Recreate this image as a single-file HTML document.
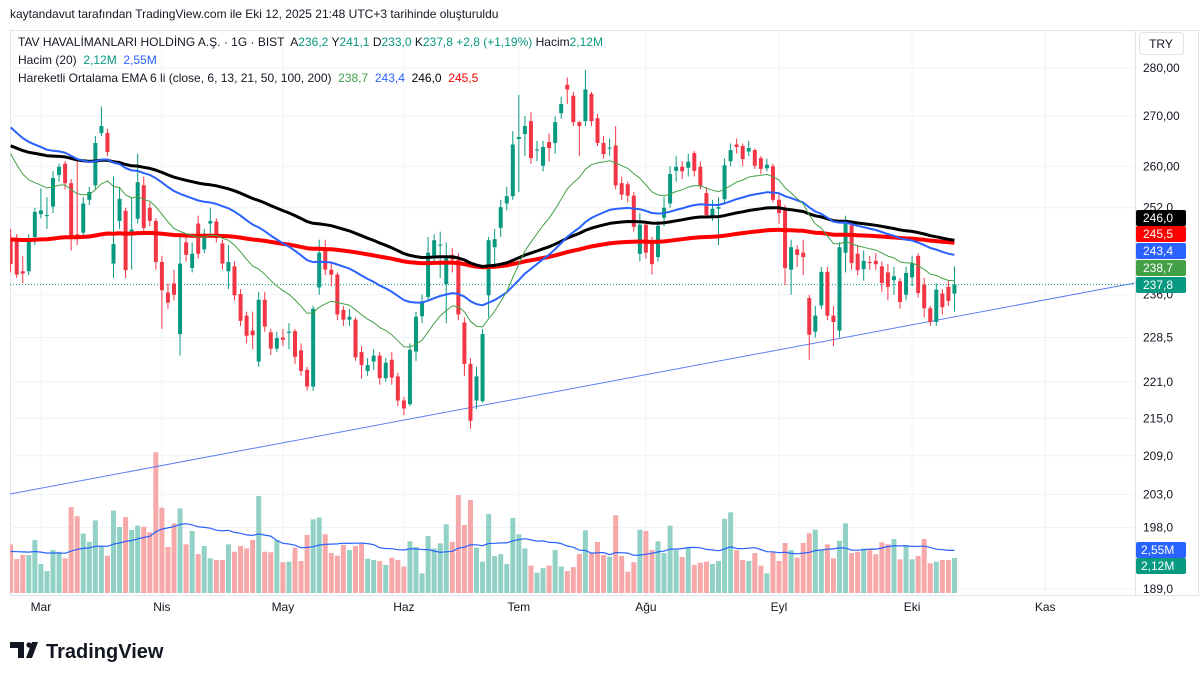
<!DOCTYPE html>
<html><head><meta charset="utf-8">
<style>
html,body{margin:0;padding:0;background:#fff;width:1199px;height:680px;overflow:hidden}
svg{display:block;font-family:"Liberation Sans",sans-serif}
svg text{white-space:pre}
</style></head><body>
<svg id="chart" width="1199" height="680" viewBox="0 0 1199 680" xmlns="http://www.w3.org/2000/svg">
<text x="10" y="18" font-size="12" fill="#131722">kaytandavut tarafından TradingView.com ile Eki 12, 2025 21:48 UTC+3 tarihinde oluşturuldu</text>
<rect x="10.5" y="30.5" width="1188" height="565" fill="none" stroke="#e0e3eb"/>
<line x1="1135.5" y1="30" x2="1135.5" y2="595" stroke="#e0e3eb"/>
<g id="grid"></g>
<g clip-path="url(#pane)">
<g id="vol"></g>
<path id="volma" fill="none" stroke="#2962ff" stroke-width="1.2"/>
<line x1="10" y1="494" x2="1135" y2="283" stroke="#5b7ff0" stroke-width="1"/>
<line id="lastline" x1="10" x2="1135" stroke="#089981" stroke-width="1" stroke-dasharray="1,2"/>
<g id="candles"></g>
<g id="emas"></g>
</g>
<defs><clipPath id="pane"><rect x="10" y="30" width="1125" height="565"/></clipPath></defs>
<g id="yaxis"></g>
<g id="xaxis"></g>
<g id="tags"></g>
<rect x="1139.5" y="32.5" width="44" height="22" rx="3" fill="#fff" stroke="#e0e3eb"/>
<text x="1161" y="48" font-size="12" fill="#131722" text-anchor="middle">TRY</text>
<text x="18" y="46" font-size="12" fill="#131722">TAV HAVALİMANLARI HOLDİNG A.Ş. · 1G · BIST  A<tspan fill="#089981">236,2</tspan> Y<tspan fill="#089981">241,1</tspan> D<tspan fill="#089981">233,0</tspan> K<tspan fill="#089981">237,8 +2,8 (+1,19%)</tspan> Hacim<tspan fill="#089981">2,12M</tspan></text>
<text x="18" y="64" font-size="12" fill="#131722">Hacim (20)  <tspan fill="#089981">2,12M</tspan>  <tspan fill="#2962ff">2,55M</tspan></text>
<text x="18" y="82" font-size="12" fill="#131722">Hareketli Ortalama EMA 6 li (close, 6, 13, 21, 50, 100, 200)  <tspan fill="#43a047">238,7</tspan>  <tspan fill="#2962ff">243,4</tspan>  <tspan fill="#000">246,0</tspan>  <tspan fill="#f00">245,5</tspan></text>
<g>
<path d="M10 642h14v16h-6v-10h-8z M26 658l6-16h6l-6 16z" fill="#131722"/>
<circle cx="29" cy="645" r="2.6" fill="#131722"/>
<text x="46" y="658" font-size="20" font-weight="bold" fill="#131722">TradingView</text>
</g>
</svg>
<script>
const O=[246,246.3,240.2,240.2,246.5,250.8,250.4,252.2,258.3,260.5,256.7,247,247.3,253.5,256.3,266.6,266.6,241.6,249.5,251.4,247.5,249.9,256.3,252,249.5,241.9,236.4,238,229.1,245.5,240.8,249,244.2,249,249.4,245.3,240.2,241.1,236.1,232.3,229.7,224.4,235.1,229.4,226.6,228.5,229.3,229.6,226.3,223,220.2,237.3,244.1,240.5,239.6,233.3,231.6,231.6,226,222.8,224.4,225.4,221.6,224.7,221.9,217.9,217.3,226.1,232.2,235.6,243,244.9,237.9,243.2,242.3,231.1,224,217.9,217.8,235.9,244.6,248.2,252.8,254.2,265.4,266.4,269,263.1,260.1,264.8,264.6,270.6,276.5,274.2,268.8,269,274.6,269.6,264.6,263.5,264.1,256.7,256.5,254.3,243.4,248.8,245.9,242.8,250.1,252.8,259.1,259.9,259.7,262.6,259.9,254.8,250.3,251.8,253.6,261,264.3,264,262.9,263.2,261.6,259.6,260,253.5,252,240.5,244.2,243.6,235.4,229.5,234.1,240.1,232.3,229.7,243.6,248.7,243.4,240.6,241.9,242.1,241.1,240,238.6,238.4,236,239.1,243,237.8,233.6,231.2,236.2,237.4,236.2];
const C=[241.5,239.6,239.8,246.3,251.2,251.5,250.6,257.7,259.9,256.7,246.5,246.5,252.8,255,264.6,268,262.8,245.2,253.7,240.4,247.9,256.9,248.2,249.5,241.9,236.8,234.6,236,241.6,243.2,243.4,243.4,247.1,249.5,246.3,241.6,241.9,235.9,231.4,228.8,228.9,235.1,230.4,226.6,228.4,228.1,229.5,225.2,222.8,220.2,233.5,243.6,240.5,239.6,232.5,231.6,232.1,225.1,223.8,223.8,225.4,221.6,224.2,221.7,217.9,216.6,226.4,232.1,234.8,243.6,245.9,245.1,242.8,242.3,232.5,224,214.6,221.9,229.1,245.9,246.1,252.1,254.2,264.3,265.8,268,261.6,263.3,263.8,263.6,268.8,272.5,275.5,268.8,268,275.5,269,264.6,262.4,263.7,256.3,254.5,254.3,248.4,248.8,243.6,241.5,248.6,252,258.5,259.9,259,260.9,259.1,256.1,250.6,251.8,252.1,260.2,263.2,263.8,261.4,263.6,260.1,259.5,260.3,253.5,251,240.8,244.6,243.2,242.8,229,232.3,240.1,232.3,231.2,244.6,249.7,241.7,240.4,242.1,241.7,241.5,238.1,237.4,239.3,234.7,239.9,241.7,236.3,233.6,231.2,236.9,233.8,234.9,237.8];
const H=[248,247,243,247,252,255.7,254,259,260.5,261,257.5,261,254,256,266,272,267.5,258,256,252,254,262.5,258,253,250,243,238,240.5,246.9,247,245.5,250.5,248,252,250,246,245,242,237,233,233,236.5,236.5,230,229.5,230,231,230,227.5,223.5,234,246,246,242,240,234,233.5,232,227,225,226.5,226,225,226,222.5,218.5,227.5,233,236,246.5,247,247.5,245.5,244.5,243.5,232,225,223.5,230,246.5,248,253.5,256,267,274.4,270,270.8,265,265,266.5,270,274,278,275,269,279.6,275,270.5,266,265.5,268,258,257,255,251,249.5,246.5,249.5,254,260,262,261,262.5,263,261,256,253.5,254,261.5,264.5,265.5,264.5,265,263.5,262,261.5,260.5,254.5,252.5,246,245,246,236,234,241,241,234,245.5,250.5,249.5,245,244,243,243.5,242,241.5,241,239,241,243,243.5,239,234,238,237,238.5,241.1];
const L=[240,239,238,239.5,245,250,248,251,257,255.5,244,245,246.5,252.5,255.5,266,262,239,248,239,240.5,249,247,248.5,240.5,230,233.5,235,225.4,242,240,242.5,243.5,246.5,245.5,240.5,237,235,230.5,227.5,226.5,223.5,229.5,225.5,226,227,226.5,224,222,219.5,219.5,236,239.5,237.5,231.5,230.5,230.5,224.5,221.5,222,223,220.5,221,220.5,217,215.5,217,224.5,231,235,241.5,239,231,240,231.5,222,213.3,216.5,217.5,232,241.5,246.5,251.5,253.5,255,262,260.5,261,259,261,262.5,269.5,272.5,268,262,268,268,264,261.5,262,255.5,253.5,253,247.5,242,242.5,239.6,242,248.5,252,257,257.5,258,258,255.5,250,249.5,245,253,260,262.5,260,262,259.5,258.5,259,253,249,237.7,236,241,239.5,224.7,228.5,233.5,231.5,227,228.5,240,240.5,239.5,238.5,240.5,240.5,236.5,235,236,233.5,235,237.5,235.5,232,230.5,230.5,232.5,234,233];
const V=[2.95,2.06,2.3,2.3,3.21,1.76,1.33,2.6,2.5,2.1,5.21,4.65,3.6,3.1,4.4,2.79,2.26,5.0,4.0,4.6,3.82,4.08,4.02,3.68,8.53,5.17,2.79,4.22,5.13,2.95,3.76,2.36,2.85,2.1,2.0,2.0,2.95,2.5,2.85,2.7,3.21,5.88,2.5,2.47,3.21,1.86,1.9,2.75,1.94,3.52,4.46,4.57,3.56,2.42,2.26,2.91,2.6,2.85,2.97,2.08,2.0,1.94,1.7,2.14,2.0,1.6,3.13,2.79,1.19,3.45,2.7,3.01,4.16,3.1,5.94,4.12,5.64,2.75,1.9,4.79,2.24,2.36,1.76,4.55,3.56,2.7,1.66,1.23,1.51,1.66,2.6,1.6,1.33,1.57,2.36,3.8,2.4,3.09,2.3,2.2,4.71,2.24,1.29,1.86,3.84,3.76,2.6,3.13,2.42,4.08,2.6,2.18,2.75,1.7,1.84,1.9,1.76,1.94,4.5,4.89,2.6,2.0,1.94,2.42,1.66,1.19,2.5,1.94,3.03,2.6,2.14,3.03,3.62,3.84,2.57,2.95,2.1,3.17,4.22,2.42,2.5,2.7,2.64,2.35,3.07,2.95,3.27,2.04,2.91,2.04,2.24,3.27,1.8,1.9,2.0,2.0,2.12];
const emaPeriods=[200,100,50,21];
const emaSeeds=[246.1,264.5,268.8,264.5];
const emaColors=['#f00','#000','#2962ff','#43a047'];
const emaWidths=[4,3,2,1];
const volSeed=2.5;
const priceTicks=[280,270,260,252,236,228.5,221,215,209,203,198,189];
const priceTickLabels=['280,00','270,00','260,00','252,0','236,0','228,5','221,0','215,0','209,0','203,0','198,0','189,0'];
const monthLabels=['Mar','Nis','May','Haz','Tem','Ağu','Eyl','Eki','Kas'];
const monthBarIdx=[5,25,45,65,84,105,127,149,171];
const tagLabels=['246,0','245,5','243,4','238,7','237,8'];
const tagColors=['#000','#f00','#2962ff','#43a047','#089981'];

const NS='http://www.w3.org/2000/svg';
function x(i){return 10.65+6.05*i;}
function y(p){return 68+1326*Math.log(280/p);}
function vy(v){return 593-16.5*v;}
function mk(tag,attrs,parent){const e=document.createElementNS(NS,tag);for(const k in attrs)e.setAttribute(k,attrs[k]);parent.appendChild(e);return e;}

const grid=document.getElementById('grid');
priceTicks.forEach((p,i)=>{
  const g=mk('line',{x1:10,x2:1135,y1:y(p),y2:y(p),stroke:'#f0f3fa'},grid);
  
  
});
monthBarIdx.forEach((b,i)=>{
  const g=mk('line',{x1:x(b),x2:x(b),y1:30,y2:595,stroke:'#f0f3fa'},grid);
  
  
});

const yax=document.getElementById('yaxis');
priceTicks.forEach((p,i)=>{
  const t=mk('text',{x:1143,y:y(p)+4,'font-size':12,fill:'#131722'},yax);
  t.textContent=priceTickLabels[i];
  
  
});
const xax=document.getElementById('xaxis');
monthLabels.forEach((m,i)=>{
  const t=mk('text',{x:x(monthBarIdx[i]),y:611,'font-size':12,fill:'#131722','text-anchor':'middle'},xax);
  t.textContent=m;
  
  
});

const vol=document.getElementById('vol');
V.forEach((v,i)=>{
  const up=C[i]>=O[i];
  const r=mk('rect',{x:x(i)-2.5,y:vy(v),width:5,height:593-vy(v),fill:up?'#92d2c6':'#f7a8a8'},vol);
  
  
});
let vd='';
V.forEach((v,i)=>{let s=0;for(let k=i-19;k<=i;k++)s+=(k<0?volSeed:V[k]);const m=s/20;vd+=(i?'L':'M')+x(i).toFixed(1)+' '+vy(m).toFixed(1);});
document.getElementById('volma').setAttribute('d',vd);
document.getElementById('lastline').setAttribute('y1',y(C[C.length-1]));
document.getElementById('lastline').setAttribute('y2',y(C[C.length-1]));

const cg=document.getElementById('candles');
C.forEach((c,i)=>{
  const up=c>=O[i];const col=up?'#089981':'#f23645';
  const w=mk('line',{x1:x(i),x2:x(i),y1:y(H[i]),y2:y(L[i]),stroke:col,'stroke-width':1},cg);
  
  
  const t=y(Math.max(O[i],c)),b=y(Math.min(O[i],c));
  const r=mk('rect',{x:x(i)-2,y:t,width:4,height:Math.max(1,b-t),fill:col},cg);
  
  
});

const eg=document.getElementById('emas');
emaPeriods.forEach((n,j)=>{
  const a=2/(n+1);let e=emaSeeds[j];let d='';
  C.forEach((c,i)=>{e=a*c+(1-a)*e;d+=(i?'L':'M')+x(i).toFixed(1)+' '+y(e).toFixed(1);});
  const p=mk('path',{d:d,fill:'none',stroke:emaColors[j],'stroke-width':emaWidths[j],'stroke-linejoin':'round'},eg);
  
  
});

const tg=document.getElementById('tags');
const tagY=[218,234,251,268,285];
tagLabels.forEach((l,i)=>{
  const cy=tagY[i];
  const r=mk('rect',{x:1136,y:cy-8,width:50,height:16,rx:2,fill:tagColors[i]},tg);
  
  
  const t=mk('text',{x:1143,y:cy+4,'font-size':12,fill:'#fff'},tg);
  t.textContent=l;
  
  
});
const volTags=[['2,55M','#2962ff',550],['2,12M','#089981',566]];
volTags.forEach(v=>{
  const r=mk('rect',{x:1136,y:v[2]-8,width:50,height:16,rx:2,fill:v[1]},tg);
  
  
  const t=mk('text',{x:1141,y:v[2]+4,'font-size':12,fill:'#fff'},tg);
  t.textContent=v[0];
  
  
});
</script>
</body></html>
